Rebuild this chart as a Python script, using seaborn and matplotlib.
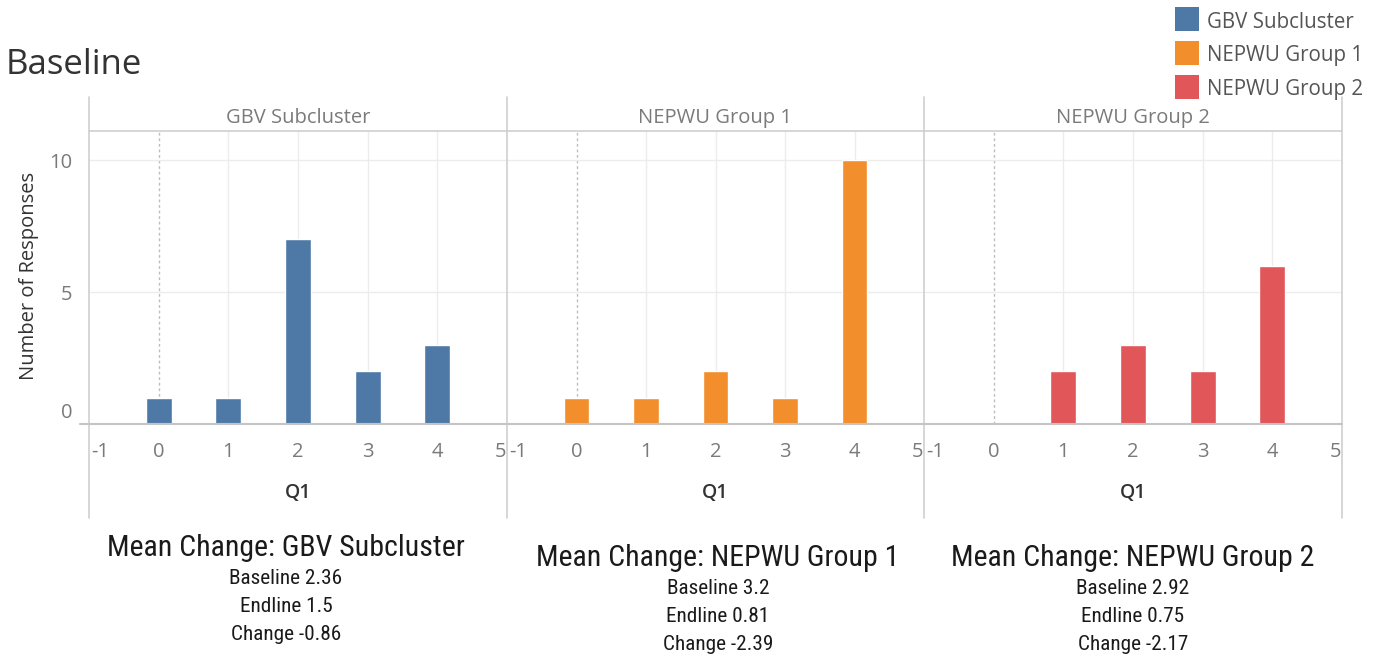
import matplotlib
matplotlib.use("Agg")
import matplotlib.pyplot as plt
from matplotlib.lines import Line2D
from matplotlib.patches import Rectangle
import matplotlib.transforms as mtransforms
import pandas as pd
import seaborn as sns

# ---- data -------------------------------------------------------------
groups = ["GBV Subcluster", "NEPWU Group 1", "NEPWU Group 2"]
q1_scores = [0, 1, 2, 3, 4]
gbv_counts = [1, 1, 7, 2, 3]
nepwu1_counts = [1, 1, 2, 1, 10]
nepwu2_counts = [0, 2, 3, 2, 6]
baseline_means = ["2.36", "3.2", "2.92"]
endline_means = ["1.5", "0.81", "0.75"]
change_means = ["-0.86", "-2.39", "-2.17"]
colors = ["#4E79A7", "#F28E2B", "#E15759"]

counts = [gbv_counts, nepwu1_counts, nepwu2_counts]
df = pd.DataFrame(
    [(g, q, c) for g, cs in zip(groups, counts) for q, c in zip(q1_scores, cs)],
    columns=["group", "Q1", "responses"],
)

# ---- style ------------------------------------------------------------
sns.set_style("white")
plt.rcParams["font.family"] = ["Open Sans", "DejaVu Sans"]
plt.rcParams["axes.unicode_minus"] = False
narrow = ["Roboto Condensed", "Liberation Sans Narrow", "Liberation Sans", "DejaVu Sans"]

W, H = 1379, 657
fig = plt.figure(figsize=(W / 100, H / 100), dpi=100)


def fx(x):
    return x / W


def fy(y):
    return 1 - y / H


def shift(artist, dx_px, dy_px):
    artist.set_transform(artist.get_transform()
                         + mtransforms.ScaledTranslation(dx_px / 100, dy_px / 100,
                                                         fig.dpi_scale_trans))


panel_edges = [89, 507, 924, 1342]
plot_top, plot_bottom = 131, 424
header_top = 97
frame_bottom = 518
grid_c = "#ececec"
frame_c = "#cfcfcf"
tick_c = "#7a7a7a"

for i, grp in enumerate(groups):
    left, right = panel_edges[i], panel_edges[i + 1]
    ax = fig.add_axes([fx(left), fy(plot_bottom), fx(right - left),
                       (plot_bottom - plot_top) / H])
    sub = df[df["group"] == grp]
    ax.axvline(0, color="#bdbdbd", ls=(0, (2, 2)), lw=1, zorder=0.5)
    sns.barplot(data=sub, x="Q1", y="responses", native_scale=True,
                color=colors[i], width=0.37, saturation=1, ax=ax, zorder=2)
    ax.set_xlim(-1, 5)
    ax.set_ylim(0, 11.1)
    ax.set_xticks(range(-1, 6))
    ax.set_yticks([0, 5, 10])
    ax.grid(True, color=grid_c, lw=1, zorder=0)
    ax.set_axisbelow(True)
    for gl, t in zip(ax.xaxis.get_gridlines(), range(-1, 6)):
        if t in (-1, 0, 5):
            gl.set_visible(False)
    ax.yaxis.get_gridlines()[0].set_visible(False)
    for s in ax.spines.values():
        s.set_visible(False)
    ax.tick_params(axis="x", length=7, color=grid_c, labelcolor=tick_c,
                   labelsize=14.5, pad=6)
    labels = ax.get_xticklabels()
    labels[0].set_horizontalalignment("left")
    labels[-1].set_horizontalalignment("right")
    shift(labels[0], 2, 0)
    shift(labels[-1], -1, 0)
    if i == 0:
        ax.tick_params(axis="y", length=0, labelcolor=tick_c, labelsize=14.5, pad=12)
        ylabs = ax.get_yticklabels()
        ylabs[0].set_verticalalignment("bottom")
        shift(ylabs[0], 0, 1)
    else:
        ax.tick_params(axis="y", length=0, labelleft=False)
    ax.set_ylabel("")
    ax.set_xlabel("Q1", fontsize=14, color="#333333", labelpad=15,
                  fontweight="semibold")
    # panel header
    fig.text(fx((left + right) / 2), fy(118), grp, ha="center", va="center",
             fontsize=14.5, color="#7a7a7a")

# frame lines
for x in panel_edges:
    fig.add_artist(Line2D([fx(x), fx(x)], [fy(header_top), fy(frame_bottom)],
                          color=frame_c, lw=1.2))
fig.add_artist(Line2D([fx(panel_edges[0]), fx(panel_edges[-1])],
                      [fy(plot_top), fy(plot_top)], color=frame_c, lw=1.2))
fig.add_artist(Line2D([fx(80), fx(panel_edges[-1])],
                      [fy(plot_bottom), fy(plot_bottom)], color="#c4c4c4", lw=1.5))

fig.text(fx(29), fy(276), "Number of Responses", rotation=90, ha="center",
         va="center", fontsize=14.5, color="#333333")

fig.text(fx(6), fy(65), "Baseline", ha="left", va="center", fontsize=25,
         color="#333333")

# legend
leg_y = [22, 56, 90]
for g, c, y in zip(groups, colors, leg_y):
    fig.add_artist(Rectangle((fx(1175), fy(y + 9)), fx(24), 24 / H,
                             facecolor=c, edgecolor="none"))
    fig.text(fx(1207), fy(y), g, ha="left", va="center", fontsize=14.8,
             color="#555555")

# mean change summaries
sum_x = [286, 718, 1133]
sum_top = [548, 558, 558]
for i, grp in enumerate(groups):
    x, y0 = sum_x[i], sum_top[i]
    fig.text(fx(x), fy(y0), f"Mean Change: {grp}", ha="center", va="center",
             fontsize=21.5, family=narrow, color="#1a1a1a")
    for k, line in enumerate([f"Baseline {baseline_means[i]}",
                              f"Endline {endline_means[i]}",
                              f"Change {change_means[i]}"]):
        fig.text(fx(x), fy(y0 + 31 + 28 * k), line, ha="center", va="center",
                 fontsize=15.3, family=narrow, color="#1a1a1a")

fig.savefig("out.png", dpi=100, facecolor="white")
